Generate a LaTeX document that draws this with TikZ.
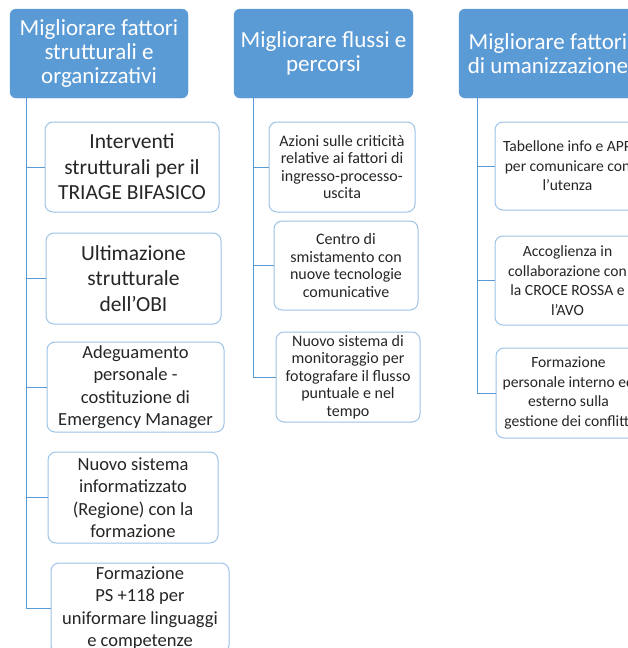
\documentclass[tikz,border=0pt]{standalone}
\usepackage{fontspec}
\setmainfont{Carlito}
\usetikzlibrary{calc}

\definecolor{headblue}{HTML}{5B9BD5}
\definecolor{edgeblue}{HTML}{9DC3E6}

\tikzset{
  head/.style={fill=headblue, draw=headblue, rounded corners=6pt, text=white, align=center,
    inner sep=0pt, font=\fontsize{23}{24}\selectfont},
  leaf/.style={draw=edgeblue, line width=1pt, fill=white, rounded corners=8pt, align=center,
    inner sep=0pt, text=black!85},
  bigtxt/.style={font=\fontsize{21.5}{25.5}\selectfont},
  midtxt/.style={font=\fontsize{18.5}{22.5}\selectfont},
  smalltxt/.style={font=\fontsize{16}{17.6}\selectfont},
  medtxt/.style={font=\fontsize{15.6}{19.5}\selectfont},
  link/.style={draw=headblue, line width=1pt},
}

\begin{document}
\begin{tikzpicture}[x=1pt,y=-1pt]
    % Frame of the page (the chart is cut at the right and bottom)
    \useasboundingbox (0,0) rectangle (628,648);
    \clip (0,0) rectangle (628,648);

    % Headers
    \node[head, minimum width=178pt, minimum height=89pt] (h1) at (99,53.5)
        {Migliorare fattori\\strutturali e\\organizzativi};
    \node[head, minimum width=179pt, minimum height=89pt] (h2) at (323.5,53.5)
        {Migliorare flussi e\\percorsi};
    \node[head, minimum width=178pt, minimum height=89pt] (h3) at (548,53.5)
        {Migliorare fattori\\di umanizzazione};

    % First column
    \node[leaf, bigtxt, minimum width=174pt, minimum height=90pt] (a1) at (132,167)
        {Interventi\\strutturali per il\\TRIAGE BIFASICO};
    \node[leaf, bigtxt, minimum width=175pt, minimum height=91pt] (a2) at (133.5,278.5)
        {Ultimazione\\strutturale\\dell’OBI};
    \node[leaf, midtxt, minimum width=177pt, minimum height=90pt] (a3) at (135.5,387)
        {Adeguamento\\personale -\\costituzione di\\Emergency Manager};
    \node[leaf, midtxt, minimum width=170pt, minimum height=91pt] (a4) at (133,497.5)
        {Nuovo sistema\\informatizzato\\(Regione) con la\\formazione};
    \node[leaf, midtxt, minimum width=178pt, minimum height=90pt] (a5) at (140,608)
        {Formazione\\PS +118 per\\uniformare linguaggi\\e competenze};

    % Second column
    \node[leaf, smalltxt, minimum width=146pt, minimum height=90pt] (b1) at (342,167)
        {Azioni sulle criticità\\relative ai fattori di\\ingresso-processo-\\uscita};
    \node[leaf, smalltxt, minimum width=144pt, minimum height=89pt] (b2) at (346,265.5)
        {Centro di\\smistamento con\\nuove tecnologie\\comunicative};
    \node[leaf, smalltxt, minimum width=144pt, minimum height=90pt] (b3) at (348,377)
        {Nuovo sistema di\\monitoraggio per\\fotografare il flusso\\puntuale e nel\\tempo};

    % Third column
    \node[leaf, medtxt, minimum width=145pt, minimum height=88pt] (c1) at (567.5,166)
        {Tabellone info e APP\\per comunicare con\\l’utenza};
    \node[leaf, medtxt, minimum width=145pt, minimum height=89pt] (c2) at (567.5,280.5)
        {Accoglienza in\\collaborazione con\\la CROCE ROSSA e\\l’AVO};
    \node[leaf, medtxt, minimum width=145pt, minimum height=90pt] (c3) at (568.5,393)
        {Formazione\\personale interno ed\\esterno sulla\\gestione dei conflitti};

    % Connectors
    \coordinate (t1) at (26,98);
    \coordinate (t2) at (253,98);
    \coordinate (t3) at (477,98);
    \draw[link] (t1) |- (a5.west);
    \foreach \b in {a1,a2,a3,a4}
        \draw[link] (t1 |- \b.west) -- (\b.west);
    \draw[link] (t2) |- (b3.west);
    \foreach \b in {b1,b2}
        \draw[link] (t2 |- \b.west) -- (\b.west);
    \draw[link] (t3) |- (c3.west);
    \foreach \b in {c1,c2}
        \draw[link] (t3 |- \b.west) -- (\b.west);
\end{tikzpicture}
\end{document}
